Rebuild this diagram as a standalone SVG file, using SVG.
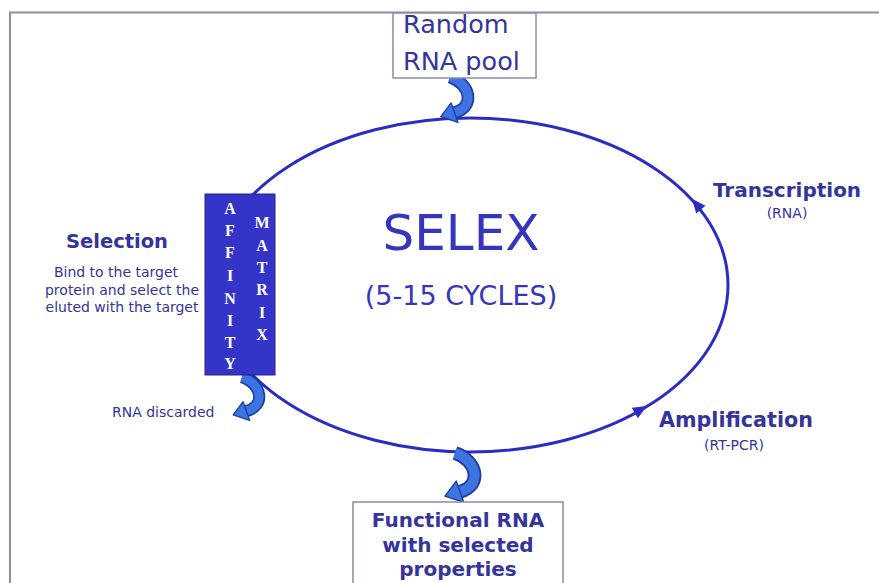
<svg xmlns="http://www.w3.org/2000/svg" width="879" height="583" viewBox="0 0 879 583">
  <style>
    .lbl { font-family: "DejaVu Sans", Verdana, sans-serif; fill: #34349a; }
    .bold { font-weight: bold; }
    .box { fill: #ffffff; stroke: #8c8ca8; stroke-width: 1.5; }
    .mat { font-family: "Liberation Serif", "Times New Roman", serif; font-weight: bold; font-size: 16px; fill: #ffffff; text-anchor: middle; }
    .cyc { fill: none; stroke: #2c2cc4; stroke-width: 3; }
    .head { fill: #2c2cc4; }
    .curl-o { fill: none; stroke: #1d3d9e; stroke-width: 11; stroke-linecap: butt; }
    .curl-i { fill: none; stroke: #3d74e4; stroke-width: 8; stroke-linecap: butt; }
    .curl-h { fill: #3d74e4; stroke: #1d3d9e; stroke-width: 1.2; stroke-linejoin: round; }
  </style>
  <defs>
    <g id="curl">
      <path class="curl-o" d="M0,0 C18,6 22,26 4,31"/>
      <path class="curl-i" d="M0,0 C18,6 22,26 4,31"/>
      <polygon class="curl-h" points="7,39.5 1,22.5 -8,34.5"/>
    </g>
  </defs>
  <rect width="879" height="583" fill="#ffffff"/>
  <path d="M10,583 V12.5 H879" fill="none" stroke="#8c8ca8" stroke-width="2"/>

  <g id="connectors">
    <ellipse class="cyc" cx="470" cy="285" rx="258" ry="167"/>
    <polygon class="head" points="8,0 -6,-6 -6,6" transform="translate(697,205) rotate(-130)"/>
    <polygon class="head" points="8,0 -6,-6 -6,6" transform="translate(640,410) rotate(-30)"/>
    <use href="#curl" transform="translate(450,77) scale(1.15)"/>
    <use href="#curl" transform="translate(242,377) scale(1.1)"/>
    <use href="#curl" transform="translate(455,453) scale(1.25)"/>
  </g>

  <g id="random-rna-pool">
    <rect class="box" x="393" y="13" width="143" height="65"/>
    <text class="lbl" x="403" y="33" font-size="25.5">Random</text>
    <text class="lbl" x="403" y="70" font-size="25.5">RNA pool</text>
  </g>

  <g id="selex-title">
    <text class="lbl" x="461" y="250" font-size="50" text-anchor="middle" style="fill:#3535bd">SELEX</text>
    <text class="lbl" x="461" y="305" font-size="27" text-anchor="middle" style="fill:#3535bd">(5-15 CYCLES)</text>
  </g>

  <g id="affinity-matrix">
    <rect x="205" y="194" width="70" height="181" fill="#3434c8" stroke="#24248e" stroke-width="1"/>
    <text class="mat" x="230" y="214">A</text>
    <text class="mat" x="230" y="236">F</text>
    <text class="mat" x="230" y="258">F</text>
    <text class="mat" x="230" y="281">I</text>
    <text class="mat" x="230" y="304">N</text>
    <text class="mat" x="230" y="326">I</text>
    <text class="mat" x="230" y="348">T</text>
    <text class="mat" x="230" y="369">Y</text>
    <text class="mat" x="262" y="228">M</text>
    <text class="mat" x="262" y="251">A</text>
    <text class="mat" x="262" y="273">T</text>
    <text class="mat" x="262" y="295">R</text>
    <text class="mat" x="262" y="318">I</text>
    <text class="mat" x="262" y="340">X</text>
  </g>

  <g id="selection">
    <text class="lbl bold" x="117" y="248" font-size="19.5" text-anchor="middle">Selection</text>
    <text class="lbl" x="116" y="277" font-size="14" text-anchor="middle">Bind to the target</text>
    <text class="lbl" x="122" y="295" font-size="14" text-anchor="middle">protein and select the</text>
    <text class="lbl" x="122" y="312" font-size="14" text-anchor="middle">eluted with the target</text>
  </g>

  <g id="transcription">
    <text class="lbl bold" x="787" y="197" font-size="20" text-anchor="middle">Transcription</text>
    <text class="lbl" x="787" y="218" font-size="14" text-anchor="middle">(RNA)</text>
  </g>

  <g id="amplification">
    <text class="lbl bold" x="736" y="427" font-size="20.7" text-anchor="middle">Amplification</text>
    <text class="lbl" x="734" y="450" font-size="14" text-anchor="middle">(RT-PCR)</text>
  </g>

  <g id="rna-discarded">
    <text class="lbl" x="112" y="417" font-size="14">RNA discarded</text>
  </g>

  <g id="functional-rna">
    <rect class="box" x="353" y="502" width="210" height="95"/>
    <text class="lbl bold" x="458" y="527" font-size="20" text-anchor="middle">Functional RNA</text>
    <text class="lbl bold" x="458" y="552" font-size="20" text-anchor="middle">with selected</text>
    <text class="lbl bold" x="458" y="576" font-size="20" text-anchor="middle">properties</text>
  </g>
</svg>
